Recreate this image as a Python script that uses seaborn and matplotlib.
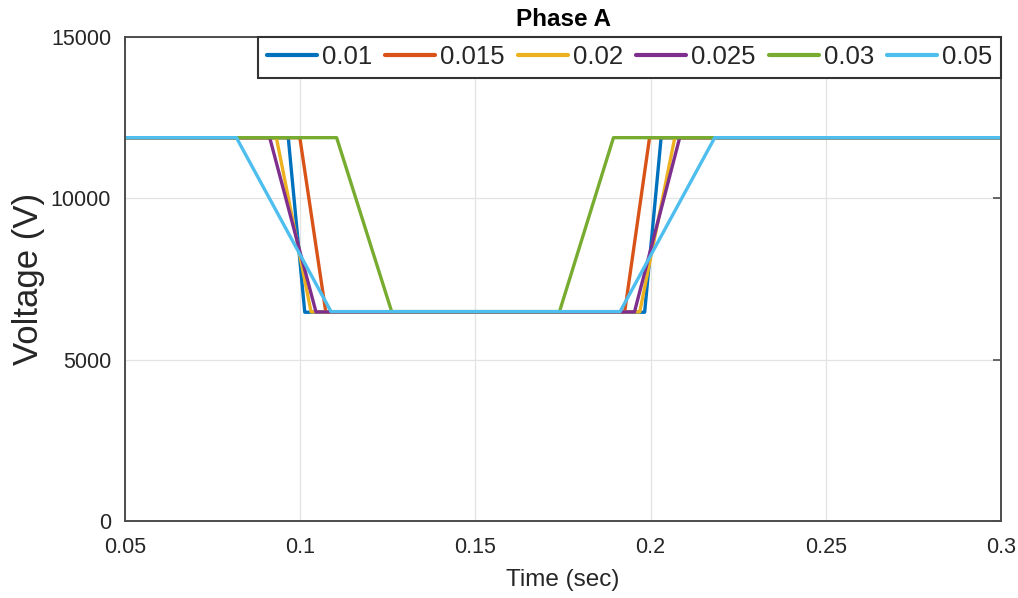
import matplotlib
matplotlib.use("Agg")
import matplotlib.pyplot as plt
import seaborn as sns
import pandas as pd

# ---- data ----
labels = ["0.01", "0.015", "0.02", "0.025", "0.03", "0.05"]
colors = ["#0072BD", "#D95319", "#EDB120", "#7E2F8E", "#77AC30", "#4DBEEE"]

t_001 = [0.05, 0.0966, 0.1013, 0.1983, 0.2030, 0.30]
v_001 = [11880, 11880, 6470, 6470, 11880, 11880]
t_0015 = [0.05, 0.0999, 0.1073, 0.1926, 0.1997, 0.30]
v_0015 = [11880, 11880, 6480, 6480, 11880, 11880]
t_002 = [0.05, 0.0932, 0.1031, 0.1969, 0.2069, 0.30]
v_002 = [11880, 11880, 6480, 6480, 11880, 11880]
t_0025 = [0.05, 0.0913, 0.1045, 0.1954, 0.2083, 0.30]
v_0025 = [11880, 11880, 6480, 6480, 11880, 11880]
t_003 = [0.05, 0.1104, 0.1261, 0.1740, 0.1894, 0.30]
v_003 = [11880, 11880, 6490, 6490, 11880, 11880]
t_005 = [0.05, 0.0818, 0.1088, 0.1913, 0.2183, 0.30]
v_005 = [11880, 11880, 6490, 6490, 11880, 11880]

xticks = [0.05, 0.1, 0.15, 0.2, 0.25, 0.3]
xticklabels = ["0.05", "0.1", "0.15", "0.2", "0.25", "0.3"]
yticks = [0, 5000, 10000, 15000]

series_t = [t_001, t_0015, t_002, t_0025, t_003, t_005]
series_v = [v_001, v_0015, v_002, v_0025, v_003, v_005]
rows = []
for lab, ts, vs in zip(labels, series_t, series_v):
    for t, v in zip(ts, vs):
        rows.append({"t": t, "v": v, "s": lab})
df = pd.DataFrame(rows)

sns.set_style("white")
plt.rcParams["font.family"] = ["Liberation Sans", "DejaVu Sans"]

fig = plt.figure(figsize=(10.18, 5.98), dpi=100)
ax = fig.add_axes([125 / 1018, 1 - 521 / 598, 876 / 1018, 484 / 598])

sns.lineplot(data=df, x="t", y="v", hue="s", hue_order=labels,
             palette=colors, estimator=None, sort=False,
             linewidth=2.4, ax=ax)

ax.set_xlim(0.05, 0.3)
ax.set_ylim(0, 15000)
ax.set_xticks(xticks)
ax.set_xticklabels(xticklabels)
ax.set_yticks(yticks)
ax.grid(True, color="#E3E3E3", linewidth=0.9)
ax.set_axisbelow(True)

dark = "#262626"
for sp in ax.spines.values():
    sp.set_visible(True)
    sp.set_color("#4D4D4D")
    sp.set_linewidth(1.4)
ax.tick_params(axis="both", which="both", direction="in", length=6,
               width=1.2, color="#4D4D4D", labelsize=15.5, labelcolor=dark,
               top=True, right=True)
ax.tick_params(axis="x", pad=11.5)
ax.tick_params(axis="y", pad=10)

ax.set_xlabel("Time (sec)", fontsize=17.5, color=dark, labelpad=8)
ax.set_ylabel("Voltage (V)", fontsize=25, color=dark, labelpad=4)
ax.set_title("Phase A", fontsize=17.5, fontweight="bold", color="black", pad=8)

leg = ax.legend(loc="upper right", ncol=6, fontsize=18.5, frameon=True,
                fancybox=False, framealpha=1, edgecolor="#333333",
                borderaxespad=0, handlelength=1.95, handletextpad=0.2,
                columnspacing=0.5, borderpad=0.33)
leg.get_frame().set_linewidth(1.5)
for line in leg.get_lines():
    line.set_linewidth(3)

fig.savefig("out.png", dpi=100)
